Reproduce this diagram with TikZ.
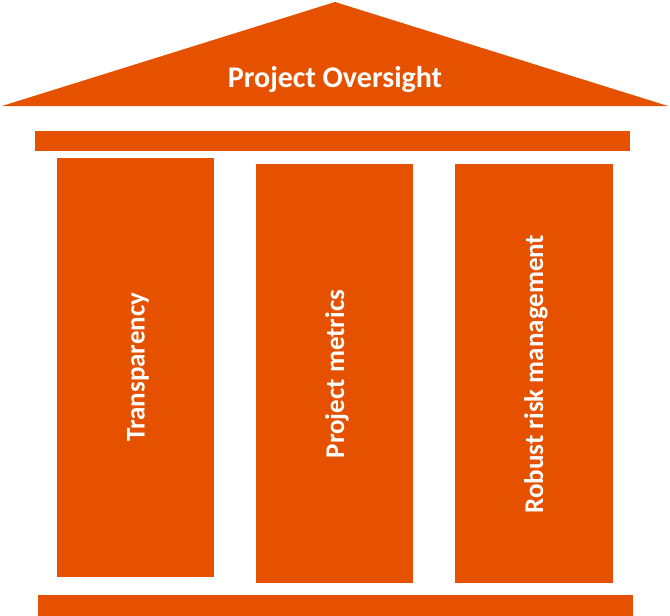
\documentclass[tikz,border=0pt]{standalone}
\usepackage{fontspec}
\setmainfont{Carlito}
\definecolor{org}{HTML}{E65100}
\begin{document}
\begin{tikzpicture}[x=1pt,y=-1pt,
  part/.style={fill=org,draw=none},
  lbl/.style={text=white,font=\bfseries\fontsize{27}{30}\selectfont,inner sep=0pt}]
\useasboundingbox (0,0) rectangle (670,616);
\fill[org] (2,106) -- (335,2) -- (668,106) -- cycle;
\node[lbl,font=\bfseries\fontsize{30}{34}\selectfont] (roof) at (335,80) {Project Oversight};
\fill[org] (35,131) rectangle (630,151);
\node[part,minimum width=157pt,minimum height=419pt] (p1) at (135.5,367.5) {};
\node[part,minimum width=157pt,minimum height=419pt] (p2) at (334.5,373.5) {};
\node[part,minimum width=158pt,minimum height=419pt] (p3) at (534,373.5) {};
\node[lbl,rotate=90] (t1) at (138,367) {Transparency};
\node[lbl,rotate=90] (t2) at (337,374) {Project metrics};
\node[lbl,rotate=90] (t3) at (536,374) {Robust risk management};
\fill[org] (38,595) rectangle (633,616);
\end{tikzpicture}
\end{document}
